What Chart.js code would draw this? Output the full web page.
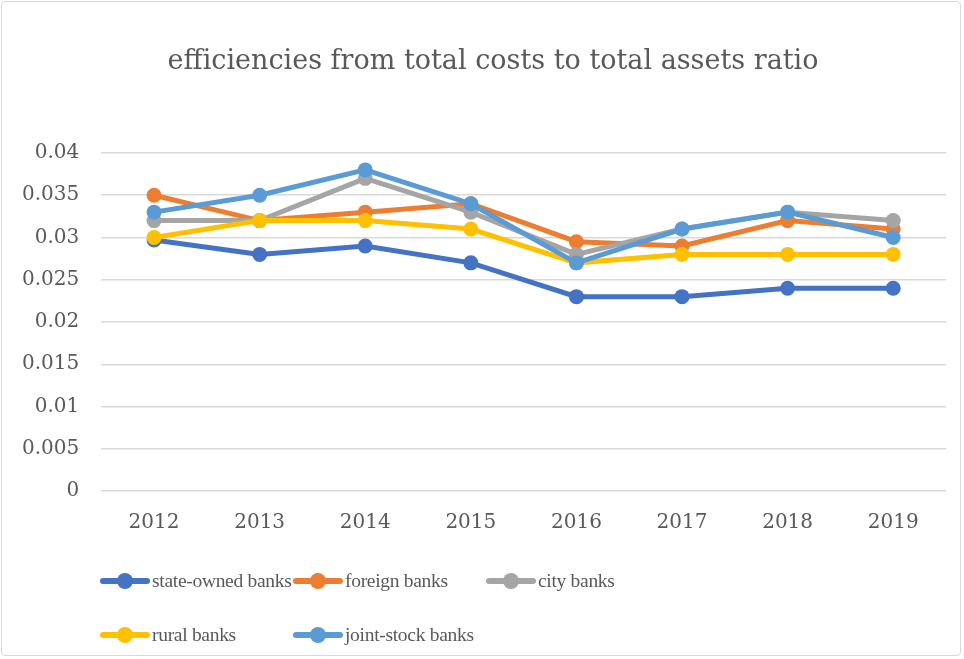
<!DOCTYPE html>
<html>
<head>
<meta charset="utf-8">
<script src="https://cdn.jsdelivr.net/npm/chart.js@4.4.0/dist/chart.umd.min.js"></script>
<style>
  html, body { margin: 0; padding: 0; background: #fff; }
  #wrap { position: relative; width: 964px; height: 659px; }
  #frame { position: absolute; left: 1px; top: 1px; width: 960px; height: 655px;
           border: 1px solid #d9d9d9; border-radius: 4px; box-sizing: border-box; pointer-events: none; }
  #title { position: absolute; left: 0; top: 43px; width: 964px; padding-left: 22px; box-sizing: border-box;
           text-align: center; font-family: "DejaVu Serif", serif; font-size: 27px; line-height: 34px; color: #595959; }
  #legend { position: absolute; left: 100px; top: 562px; display: grid;
            grid-template-columns: 193px 193px 193px; row-gap: 16px;
            font-family: "Liberation Serif", serif; font-size: 19.5px; letter-spacing: -0.3px; color: #595959; }
  .item { display: flex; align-items: center; height: 38px; white-space: nowrap; }
  .mark { position: relative; flex: 0 0 50px; height: 20px; margin-right: 2px; }
  .mark::before { content: ""; position: absolute; left: 0; right: 0; top: 7px; height: 6px;
                  border-radius: 3px; background: var(--c); }
  .mark::after { content: ""; position: absolute; left: 17px; top: 2px; width: 16px; height: 16px;
                 border-radius: 50%; background: var(--c); }
</style>
</head>
<body>
<div id="wrap">
  <canvas id="myChart" width="964" height="659"></canvas>
  <div id="frame"></div>
  <div id="title">efficiencies from total costs to total assets ratio</div>
  <div id="legend"></div>
</div>
<script>
// data
const years = ['2012', '2013', '2014', '2015', '2016', '2017', '2018', '2019'];
const stateOwned = [0.0297, 0.028, 0.029, 0.027, 0.023, 0.023, 0.024, 0.024];
const foreignBanks = [0.035, 0.032, 0.033, 0.034, 0.0295, 0.029, 0.032, 0.031];
const cityBanks = [0.032, 0.032, 0.037, 0.033, 0.028, 0.031, 0.033, 0.032];
const ruralBanks = [0.030, 0.032, 0.032, 0.031, 0.027, 0.028, 0.028, 0.028];
const jointStock = [0.033, 0.035, 0.038, 0.034, 0.027, 0.031, 0.033, 0.030];
const seriesNames = ['state-owned banks', 'foreign banks', 'city banks', 'rural banks', 'joint-stock banks'];
const seriesColors = ['#4472C4', '#ED7D31', '#A5A5A5', '#FFC000', '#5B9BD5'];
const yTicks = [0, 0.005, 0.01, 0.015, 0.02, 0.025, 0.03, 0.035, 0.04];

const allSeries = [stateOwned, foreignBanks, cityBanks, ruralBanks, jointStock];
const FONT = '"DejaVu Serif", serif';
const TXT = '#595959';

const datasets = allSeries.map(function(vals, i) {
  return {
    label: seriesNames[i],
    data: vals,
    borderColor: seriesColors[i],
    backgroundColor: seriesColors[i],
    borderWidth: 5,
    pointRadius: 7.5,
    pointHoverRadius: 7.5,
    pointBorderWidth: 0,
    tension: 0,
    order: allSeries.length - i  // last series painted on top, like excel
  };
});

const config = {
  type: 'line',
  data: { labels: years, datasets: datasets },
  options: {
    responsive: false,
    animation: false,
    layout: { padding: { left: 0, right: 18, top: 153, bottom: 112 } },
    plugins: {
      legend: { display: false },
      tooltip: { enabled: false },
      title: { display: false }
    },
    scales: {
      x: {
        offset: true,
        grid: { display: false },
        border: { display: false },
        ticks: { color: TXT, font: { family: FONT, size: 20 }, padding: 12 }
      },
      y: {
        min: 0,
        max: 0.04,
        afterBuildTicks: function(axis) {
          axis.ticks = yTicks.map(function(v) { return { value: v }; });
        },
        grid: { color: '#D9D9D9', lineWidth: 1.5, drawTicks: false },
        border: { display: false },
        ticks: {
          color: TXT,
          font: { family: FONT, size: 20 },
          padding: 22,
          callback: function(v) { return String(Math.round(v * 1000) / 1000); }
        }
      }
    }
  }
};

new Chart(document.getElementById('myChart'), config);

// legend laid out in columns like the excel one
const legend = document.getElementById('legend');
seriesNames.forEach(function(name, i) {
  const item = document.createElement('div');
  item.className = 'item';
  if (i === 3) item.style.gridColumn = '1';
  const mark = document.createElement('span');
  mark.className = 'mark';
  mark.style.setProperty('--c', seriesColors[i]);
  const txt = document.createElement('span');
  txt.textContent = name;
  item.appendChild(mark);
  item.appendChild(txt);
  legend.appendChild(item);
});
</script>
</body>
</html>
